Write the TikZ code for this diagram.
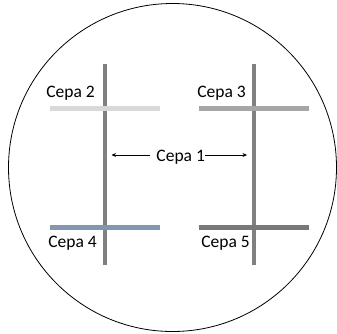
\documentclass[tikz,border=0pt]{standalone}
\usepackage{fontspec}
\setmainfont{Carlito}
\usetikzlibrary{arrows.meta}
\definecolor{vline}{HTML}{808080}
\definecolor{cepadois}{HTML}{D9D9D9}
\definecolor{cepatres}{HTML}{A6A6A6}
\definecolor{cepaquatro}{HTML}{8497B0}
\definecolor{cepacinco}{HTML}{787878}
\tikzset{
  streak/.style={line width=4.5pt},
  lbl/.style={anchor=base, inner sep=0pt, font=\fontsize{17.5}{20}\selectfont},
  pointer/.style={line width=0.7pt, -{Stealth[length=4.5pt,width=4pt]}}
}
\begin{document}
\begin{tikzpicture}[x=1pt,y=-1pt]
\useasboundingbox (0,0) rectangle (337,333);
\node[draw, circle, line width=0.8pt, minimum size=328pt, inner sep=0pt] (dish) at (172.5,167.5) {};
% Cepa 1 streaks (vertical)
\coordinate (v1t) at (105,64);
\coordinate (v1b) at (105,265);
\coordinate (v2t) at (254,64);
\coordinate (v2b) at (254,265);
\draw[streak, vline] (v1t) -- (v1b);
\draw[streak, vline] (v2t) -- (v2b);
% horizontal streaks
\coordinate (h2a) at (50,108.3);
\coordinate (h2b) at (160,108.3);
\coordinate (h3a) at (198.5,108.3);
\coordinate (h3b) at (308.5,108.3);
\coordinate (h4a) at (50,227.3);
\coordinate (h4b) at (160,227.3);
\coordinate (h5a) at (198.5,227.3);
\coordinate (h5b) at (308.5,227.3);
\draw[streak, cepadois] (h2a) -- (h2b);
\draw[streak, cepatres] (h3a) -- (h3b);
\draw[streak, cepaquatro] (h4a) -- (h4b);
\draw[streak, cepacinco] (h5a) -- (h5b);
% labels
\node[lbl] (c2) at (70.5,97.7) {Cepa 2};
\node[lbl] (c3) at (221.5,97.7) {Cepa 3};
\node[lbl] (c4) at (72.5,247.7) {Cepa 4};
\node[lbl] (c5) at (225.5,247.7) {Cepa 5};
\node[lbl] (c1) at (180.7,161) {Cepa 1};
% arrows
\coordinate (la) at (150,155);
\coordinate (lt) at (111.5,155);
\coordinate (rt) at (247,155);
\draw[pointer] (la) -- (lt);
\draw[pointer] (c1.east |- rt) -- (rt);
\end{tikzpicture}
\end{document}
